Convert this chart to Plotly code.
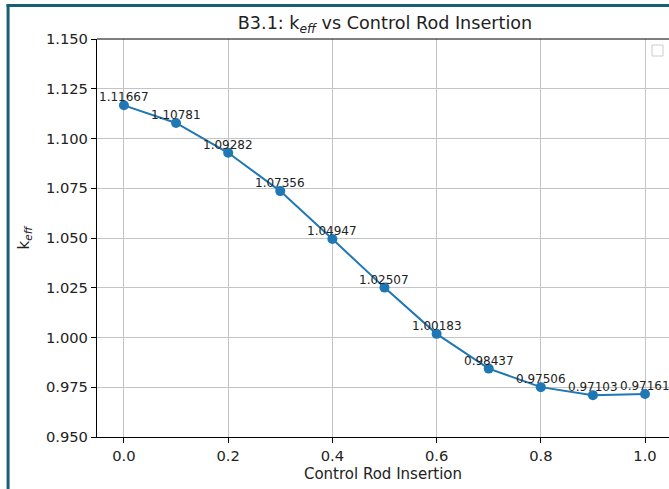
import plotly.graph_objects as go

insertion = [0.0, 0.1, 0.2, 0.3, 0.4, 0.5, 0.6, 0.7, 0.8, 0.9, 1.0]
keff = [1.11667, 1.10781, 1.09282, 1.07356, 1.04947, 1.02507, 1.00183,
        0.98437, 0.97506, 0.97103, 0.97161]
x_ticks = [0.0, 0.2, 0.4, 0.6, 0.8, 1.0]
y_ticks = [0.950, 0.975, 1.000, 1.025, 1.050, 1.075, 1.100, 1.125, 1.150]

W, H = 669, 489
L, R, T, B = 96.5, 0, 39, 52
FONT = "DejaVu Sans"
TXT = "#222222"

fig = go.Figure()
fig.add_trace(go.Scatter(
    x=insertion, y=keff, mode="lines+markers",
    line=dict(color="#1f77b4", width=2),
    marker=dict(color="#1f77b4", size=10),
    showlegend=False, hoverinfo="skip",
))

for xv, yv in zip(insertion, keff):
    fig.add_annotation(x=xv, y=yv, text=f"{yv:.5f}", showarrow=False,
                       yanchor="middle", xanchor="center", yshift=8,
                       font=dict(family=FONT, size=12, color=TXT))

def px_to_paper_x(px):
    return (px - L) / (W - L - R)

def px_to_paper_y(py):
    return (H - B - py) / (H - T - B)

# outer teal frame (left and top visible)
fig.add_shape(type="line", xref="paper", yref="paper",
              x0=px_to_paper_x(7.5), x1=px_to_paper_x(7.5),
              y0=px_to_paper_y(4.0), y1=px_to_paper_y(495),
              line=dict(color="#1b5e78", width=3))
fig.add_shape(type="line", xref="paper", yref="paper",
              x0=px_to_paper_x(6), x1=px_to_paper_x(680),
              y0=px_to_paper_y(5.5), y1=px_to_paper_y(5.5),
              line=dict(color="#1b5e78", width=3))
# empty legend box
fig.add_shape(type="rect", xref="paper", yref="paper",
              x0=px_to_paper_x(652), x1=px_to_paper_x(663),
              y0=px_to_paper_y(56), y1=px_to_paper_y(45),
              line=dict(color="#cccccc", width=1), fillcolor="white")

axis_common = dict(
    showline=True, linecolor="black", linewidth=1.2,
    ticks="outside", ticklen=5, tickwidth=1.2, tickcolor="black",
    showgrid=True, gridcolor="#c4c4c4", gridwidth=1,
    zeroline=False, tickfont=dict(family=FONT, size=14.7, color=TXT),
)

fig.update_layout(
    width=W, height=H,
    margin=dict(l=L, r=R, t=T, b=B, autoexpand=False),
    paper_bgcolor="white", plot_bgcolor="white",
    title=dict(text="B3.1: k<sub><i>eff</i></sub> vs Control Rod Insertion",
               x=385 / W, xanchor="center",
               y=1 - 23 / H, yanchor="middle",
               font=dict(family=FONT, size=17.6, color=TXT)),
    xaxis=dict(range=[-0.0517, 1.046], tickvals=x_ticks,
               ticktext=[f"{v:.1f}" for v in x_ticks], mirror=False,
               title=dict(text="Control Rod Insertion", standoff=5,
                          font=dict(family=FONT, size=15, color=TXT)),
               **axis_common),
    yaxis=dict(range=[0.950, 1.150], tickvals=y_ticks,
               ticktext=[f"{v:.3f}" for v in y_ticks],
               title=dict(text="k<sub><i>eff</i></sub>", standoff=12,
                          font=dict(family=FONT, size=15, color=TXT)),
               **axis_common),
)
fig.add_shape(type="line", xref="paper", yref="paper", x0=0, x1=1, y0=1, y1=1,
              line=dict(color="black", width=1.2))

fig.write_html("out.html",
               config={"displayModeBar": False},
               post_script="document.body.style.margin='0';"
                           "document.body.style.padding='0';"
                           "document.body.style.overflow='hidden';")
